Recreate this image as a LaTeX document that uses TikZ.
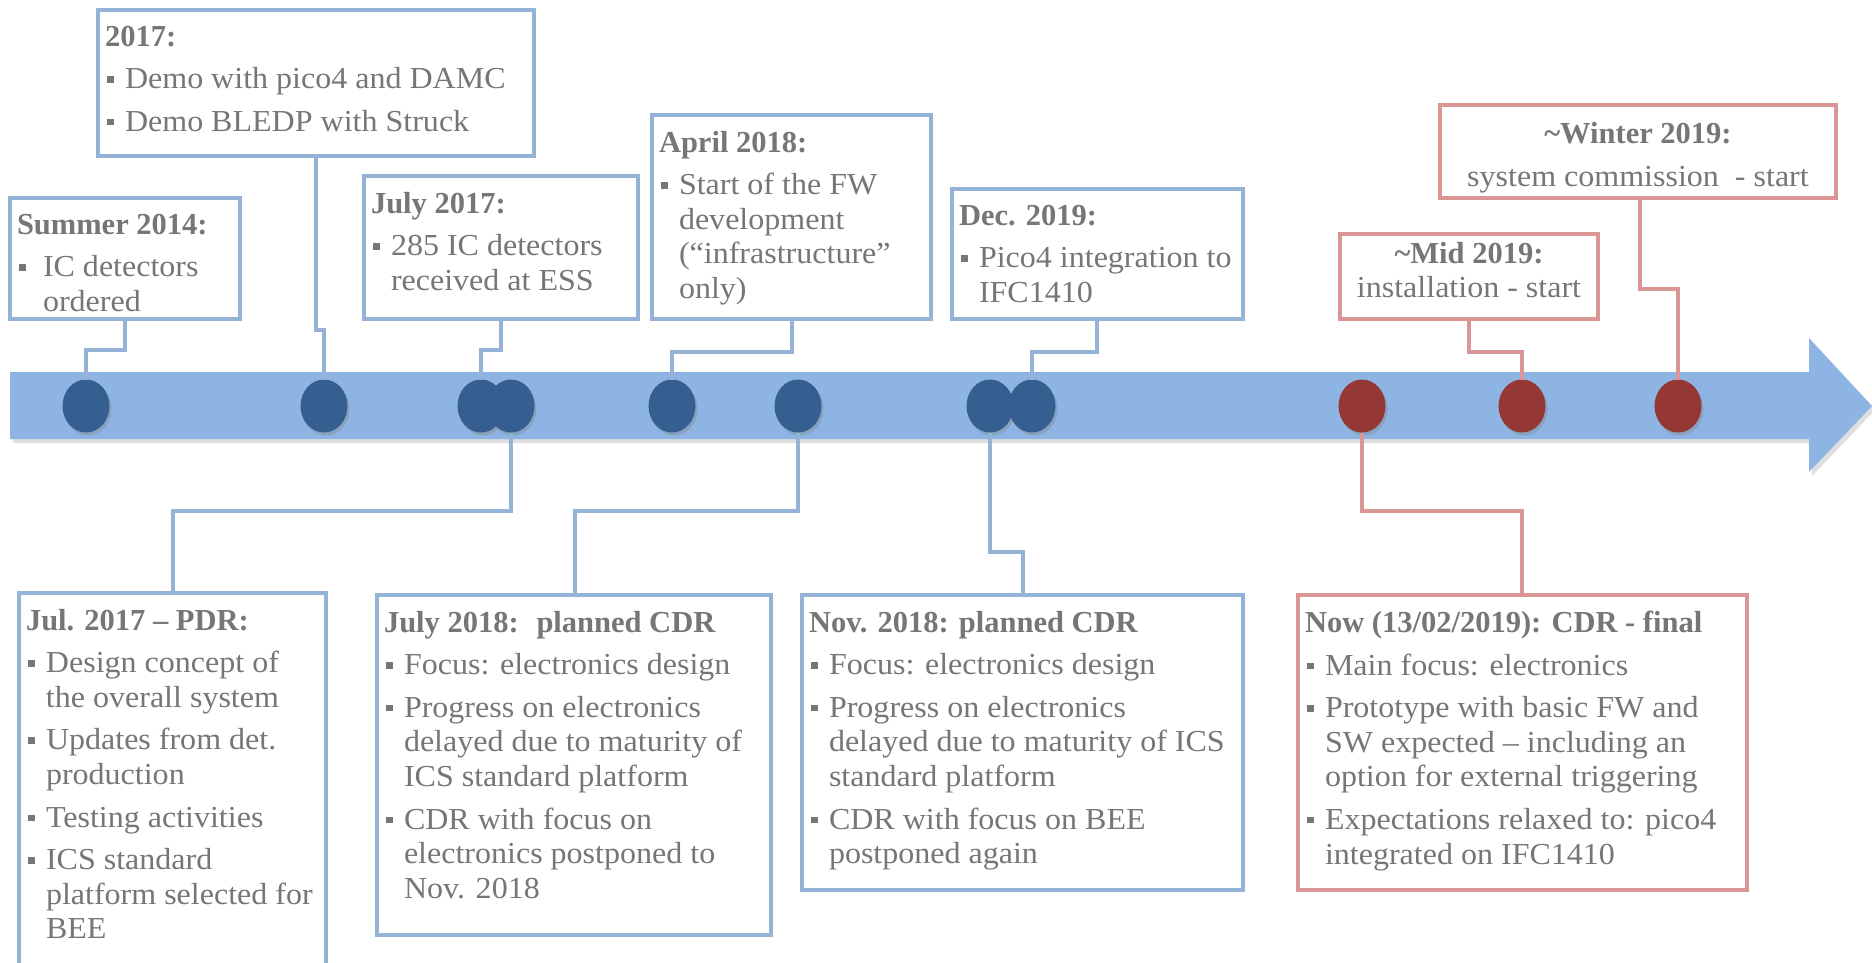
\documentclass[tikz,border=0pt]{standalone}
\usepackage{fontspec}
\setmainfont{Liberation Serif}[UprightFeatures={FakeStretch=1.05}]
\usetikzlibrary{shapes.geometric,shadows}
\definecolor{bandblue}{RGB}{141,180,226}
\definecolor{boxblue}{RGB}{149,179,215}
\definecolor{dotblue}{RGB}{54,95,145}
\definecolor{boxred}{RGB}{217,150,148}
\definecolor{dotred}{RGB}{149,55,53}
\definecolor{txt}{RGB}{118,118,118}
\newcommand{\tx}{\fontsize{30.5}{34.6}\selectfont\color{txt}\rightskip=0pt plus 1fil\setlength{\parskip}{8pt}\setlength{\parindent}{0pt}}
\newcommand{\bx}[3]{\parbox[t][#2pt][t]{#1pt}{\tx #3}}
\newcommand{\itm}[2][20pt]{\par\hangindent=#1\hangafter=1\noindent\makebox[#1][l]{\hspace{2pt}\rule[6pt]{6.5pt}{6.5pt}}#2}
\begin{document}
\begin{tikzpicture}[x=1pt,y=-1pt,
 bbox/.style={draw=boxblue, line width=4pt, fill=white, inner xsep=7pt, inner ysep=8pt, outer sep=0pt, anchor=north west},
 rbox/.style={bbox, draw=boxred},
 conn/.style={draw=boxblue, line width=4.5pt},
 rconn/.style={conn, draw=boxred},
 dotb/.style={ellipse, fill=dotblue, minimum width=47pt, minimum height=53pt, inner sep=0pt, outer sep=0pt, drop shadow={shadow xshift=2pt, shadow yshift=-3pt, opacity=0.35}},
 dotr/.style={dotb, fill=dotred}]
\useasboundingbox (0,0) rectangle (1872,962);
\fill[white] (0,0) rectangle (1872,962);
% band
\fill[bandblue, drop shadow={shadow xshift=3pt, shadow yshift=-4pt, opacity=0.25}] (10,372) -- (1809,372) -- (1809,338) -- (1872,406) -- (1809,472) -- (1809,439) -- (10,439) -- cycle;
% dots
\node[dotb] (d1) at (86,406) {};
\node[dotb] (d2) at (324,406) {};
\node[dotb] (d3) at (481,406) {};
\node[dotb] (d4) at (511,406) {};
\node[dotb] (d5) at (672,406) {};
\node[dotb] (d6) at (798,406) {};
\node[dotb] (d7) at (990,406) {};
\node[dotb] (d8) at (1032,406) {};
\node[dotr] (d9) at (1362,406) {};
\node[dotr] (d10) at (1522,406) {};
\node[dotr] (d11) at (1678,406) {};
% top boxes
\node[bbox] (b1) at (10,198) {\bx{216}{105}{\textbf{Summer 2014:}\itm[26pt]{IC detectors\\ordered}}};
\node[bbox] (b2) at (98,10) {\bx{422}{130}{\textbf{2017:}\itm{Demo with pico4 and DAMC}\itm{Demo BLEDP with Struck}}};
\node[bbox] (b3) at (364,176) {\bx{260}{127}{\textbf{July 2017:}\itm{285 IC detectors\\received at ESS}}};
\node[bbox] (b4) at (652,115) {\bx{265}{188}{\textbf{April 2018:}\itm{Start of the FW\\development\\(“infrastructure”\\only)}}};
\node[bbox] (b5) at (952,189) {\bx{277}{114}{\textbf{Dec. 2019:}\itm{Pico4 integration to\\IFC1410}}};
\node[rbox] (b6) at (1340,234) {\bx{244}{69}{\centering\setlength{\parskip}{0pt}\textbf{\textasciitilde Mid 2019:}\par installation - start}};
\node[rbox] (b7) at (1440,105) {\bx{382}{77}{\centering\setlength{\parskip}{9pt}\textbf{\textasciitilde Winter 2019:}\par system commission~ - start}};
% bottom boxes
\node[bbox] (b8) at (19,593) {\bx{293}{400}{\textbf{Jul. 2017 – PDR:}\itm{Design concept of\\the overall system}\itm{Updates from det.\\production}\itm{Testing activities}\itm{ICS standard\\platform selected for\\BEE}}};
\node[bbox] (b9) at (377,595) {\bx{380}{324}{\textbf{July 2018:~ planned CDR}\itm{Focus: electronics design}\itm{Progress on electronics\\delayed due to maturity of\\ICS standard platform}\itm{CDR with focus on\\electronics postponed to\\Nov. 2018}}};
\node[bbox] (b10) at (802,595) {\bx{427}{279}{\textbf{Nov. 2018: planned CDR}\itm{Focus: electronics design}\itm{Progress on electronics\\delayed due to maturity of ICS\\standard platform}\itm{CDR with focus on BEE\\postponed again}}};
\node[rbox] (b11) at (1298,595) {\bx{435}{279}{\textbf{Now (13/02/2019): CDR - final}\itm{Main focus: electronics}\itm{Prototype with basic FW and\\SW expected – including an\\option for external triggering}\itm{Expectations relaxed to: pico4\\integrated on IFC1410}}};
% top connectors
\draw[conn] ([xshift=115pt]b1.south west) -- ++(0,31) -| (d1.north);
\draw[conn] ([xshift=218pt]b2.south west) -- ++(0,174) -| (d2.north);
\draw[conn] ([xshift=137pt]b3.south west) -- ++(0,31) -| (d3.north);
\draw[conn] ([xshift=140pt]b4.south west) -- ++(0,33) -| (d5.north);
\draw[conn] ([xshift=145pt]b5.south west) -- ++(0,33) -| (d8.north);
\draw[rconn] ([xshift=129pt]b6.south west) -- ++(0,33) -| (d10.north);
\draw[rconn] ([xshift=200pt]b7.south west) -- ++(0,91) -| (d11.north);
% bottom connectors
\draw[conn] (d4.south) -- (d4.south |- 0,511) -| ([xshift=154pt]b8.north west);
\draw[conn] (d6.south) -- (d6.south |- 0,511) -| ([xshift=198pt]b9.north west);
\draw[conn] (d7.south) -- (d7.south |- 0,552) -| ([xshift=221pt]b10.north west);
\draw[rconn] (d9.south) -- (d9.south |- 0,511) -| ([xshift=224pt]b11.north west);
\end{tikzpicture}
\end{document}
